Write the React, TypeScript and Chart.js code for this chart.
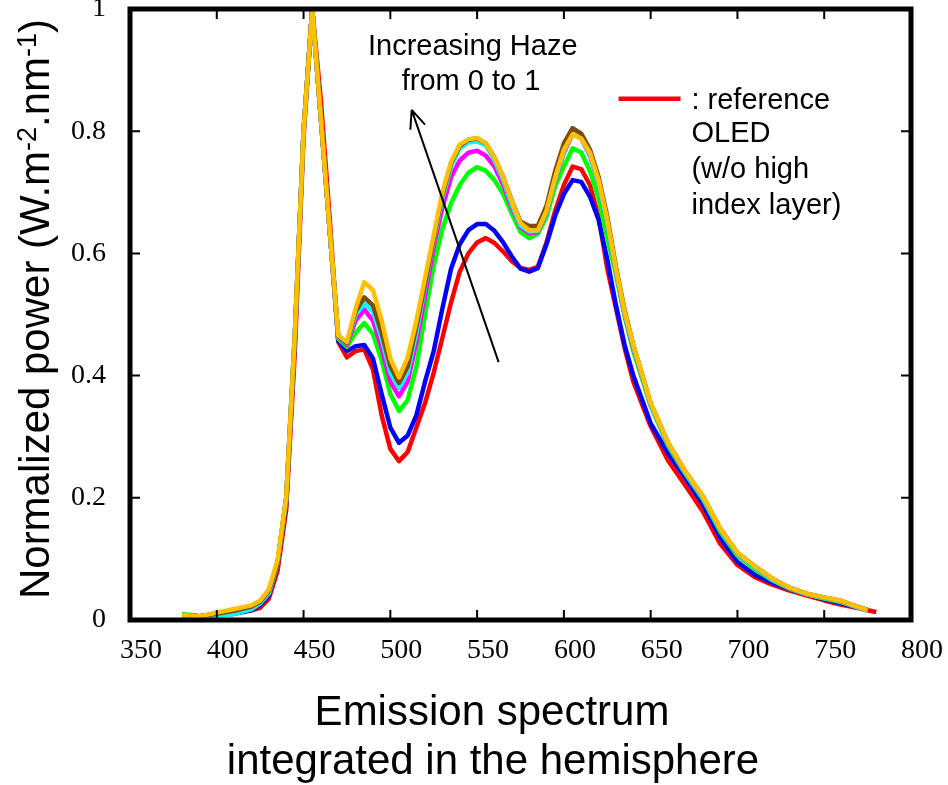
import React, { useEffect, useRef } from "react";
import { Chart, registerables } from "chart.js";

Chart.register(...registerables);

// Wavelength grid (nm)
const wavelengths = [
  380, 390, 400, 410, 420, 425, 430, 435, 440, 445, 450, 455, 460, 465,
  470, 475, 480, 485, 490, 495, 500, 505, 510, 515, 520, 525, 530, 535,
  540, 545, 550, 555, 560, 565, 570, 575, 580, 585, 590, 595, 600, 605,
  610, 615, 620, 625, 630, 635, 640, 650, 660, 670, 680, 690, 700, 710,
  720, 730, 740, 750, 760, 770, 775, 780,
];

// Reference OLED (red)
const referenceOled = [
  0.006, 0.005, 0.012, 0.012, 0.016, 0.02, 0.035, 0.08, 0.18, 0.44, 0.79, 1.0, 0.85, 0.66,
  0.455, 0.43, 0.44, 0.443, 0.41, 0.335, 0.28, 0.26, 0.275, 0.315, 0.355, 0.405, 0.462, 0.52,
  0.57, 0.6, 0.618, 0.625, 0.617, 0.603, 0.587, 0.576, 0.573, 0.578, 0.618, 0.67, 0.712, 0.742,
  0.738, 0.712, 0.66, 0.575, 0.51, 0.445, 0.39, 0.317, 0.261, 0.22, 0.178, 0.125, 0.09, 0.07,
  0.058, 0.048, 0.04, 0.032, 0.025, 0.019, 0.016, 0.013,
];

// Haze = 0 (blue)
const hazeBlue = [
  0.008, 0.006, 0.008, 0.01, 0.016, 0.025, 0.04, 0.09, 0.19, 0.46, 0.8, 1.0, 0.82, 0.64,
  0.457, 0.44, 0.448, 0.45, 0.428, 0.37, 0.315, 0.29, 0.302, 0.335, 0.39, 0.44, 0.51, 0.575,
  0.615, 0.638, 0.648, 0.648, 0.637, 0.618, 0.595, 0.575, 0.57, 0.576, 0.615, 0.662, 0.697, 0.72,
  0.717, 0.693, 0.655, 0.59, 0.515, 0.45, 0.4, 0.322, 0.273, 0.233, 0.19, 0.135, 0.095, 0.074,
  0.061, 0.05, 0.042, 0.034, 0.027, 0.02, 0.017, null,
];

// green
const hazeGreen = [
  0.01, 0.006, 0.008, 0.011, 0.018, 0.027, 0.043, 0.092, 0.195, 0.465, 0.8, 1.0, 0.82, 0.64,
  0.46, 0.447, 0.47, 0.486, 0.468, 0.425, 0.37, 0.342, 0.36, 0.415, 0.5, 0.58, 0.64, 0.682,
  0.712, 0.732, 0.741, 0.735, 0.72, 0.697, 0.665, 0.635, 0.625, 0.632, 0.66, 0.71, 0.742, 0.772,
  0.765, 0.735, 0.69, 0.625, 0.565, 0.497, 0.44, 0.35, 0.285, 0.239, 0.198, 0.145, 0.105, 0.083,
  0.065, 0.051, 0.042, 0.035, 0.029, 0.02, 0.016, null,
];

// magenta
const hazeMagenta = [
  0.008, 0.006, 0.008, 0.011, 0.018, 0.028, 0.044, 0.093, 0.198, 0.465, 0.8, 1.0, 0.82, 0.64,
  0.463, 0.45, 0.49, 0.508, 0.49, 0.445, 0.39, 0.366, 0.39, 0.455, 0.53, 0.61, 0.675, 0.725,
  0.752, 0.765, 0.768, 0.76, 0.742, 0.712, 0.675, 0.643, 0.633, 0.635, 0.668, 0.72, 0.765, 0.795,
  0.788, 0.76, 0.715, 0.65, 0.57, 0.5, 0.445, 0.352, 0.288, 0.241, 0.2, 0.148, 0.108, 0.086,
  0.066, 0.052, 0.042, 0.036, 0.03, 0.02, 0.016, null,
];

// cyan
const hazeCyan = [
  0.005, 0.004, 0.006, 0.01, 0.018, 0.028, 0.045, 0.093, 0.2, 0.47, 0.8, 1.0, 0.82, 0.64,
  0.464, 0.452, 0.5, 0.518, 0.505, 0.46, 0.405, 0.38, 0.405, 0.47, 0.545, 0.622, 0.69, 0.742,
  0.772, 0.782, 0.783, 0.777, 0.752, 0.72, 0.68, 0.646, 0.636, 0.637, 0.67, 0.722, 0.768, 0.797,
  0.789, 0.762, 0.717, 0.652, 0.572, 0.502, 0.447, 0.352, 0.288, 0.241, 0.2, 0.148, 0.108, 0.086,
  0.066, 0.052, 0.042, 0.036, 0.03, 0.02, 0.016, null,
];

// brown
const hazeBrown = [
  0.008, 0.006, 0.01, 0.015, 0.022, 0.03, 0.048, 0.093, 0.2, 0.47, 0.8, 1.0, 0.82, 0.64,
  0.465, 0.453, 0.505, 0.528, 0.515, 0.47, 0.415, 0.388, 0.415, 0.48, 0.55, 0.625, 0.695, 0.748,
  0.776, 0.786, 0.788, 0.78, 0.757, 0.725, 0.686, 0.652, 0.645, 0.645, 0.678, 0.735, 0.78, 0.805,
  0.796, 0.77, 0.725, 0.66, 0.578, 0.507, 0.45, 0.355, 0.29, 0.243, 0.203, 0.15, 0.11, 0.088,
  0.068, 0.053, 0.043, 0.037, 0.031, 0.021, 0.016, null,
];

// Haze = 1 (gold)
const hazeGold = [
  0.008, 0.006, 0.012, 0.018, 0.024, 0.032, 0.05, 0.098, 0.2, 0.47, 0.8, 1.0, 0.82, 0.64,
  0.466, 0.455, 0.51, 0.553, 0.54, 0.49, 0.428, 0.397, 0.43, 0.49, 0.56, 0.63, 0.7, 0.75,
  0.778, 0.787, 0.789, 0.78, 0.757, 0.725, 0.685, 0.65, 0.638, 0.638, 0.67, 0.725, 0.77, 0.795,
  0.788, 0.765, 0.72, 0.655, 0.575, 0.505, 0.45, 0.355, 0.29, 0.243, 0.203, 0.15, 0.11, 0.088,
  0.068, 0.053, 0.043, 0.037, 0.031, 0.021, 0.016, null,
];

const seriesNames = ["reference", "haze0", "hazeA", "hazeB", "hazeC", "hazeD", "haze1"];
const seriesValues = [referenceOled, hazeBlue, hazeGreen, hazeMagenta, hazeCyan, hazeBrown, hazeGold];
const seriesColors = ["#ff0000", "#0000ff", "#00ff00", "#ff00ff", "#00ffff", "#7f4a0c", "#ffc000"];

const xTicks = [350, 400, 450, 500, 550, 600, 650, 700, 750, 800];
const yTicks = [0, 0.2, 0.4, 0.6, 0.8, 1];
const yTickLabels = ["0", "0.2", "0.4", "0.6", "0.8", "1"];

const annotationLines = ["Increasing Haze", "from 0 to 1"];
const legendLines = [": reference", "OLED", "(w/o high", "index layer)"];
const xTitleLines = ["Emission spectrum", "integrated in the hemisphere"];

const SANS = '"Liberation Sans", Arial, Helvetica, sans-serif';
const SERIF = '"Liberation Serif", "Times New Roman", Times, serif';

const decorPlugin = {
  id: "decor",
  afterDraw(chart: any) {
    const { ctx, chartArea } = chart;
    const xs = chart.scales.x;
    const ys = chart.scales.y;
    const { left, right, top, bottom } = chartArea;
    ctx.save();
    // inward ticks
    ctx.strokeStyle = "#000";
    ctx.lineWidth = 2;
    ctx.beginPath();
    xTicks.forEach((v) => {
      const px = xs.getPixelForValue(v);
      ctx.moveTo(px, bottom);
      ctx.lineTo(px, bottom - 10);
      ctx.moveTo(px, top);
      ctx.lineTo(px, top + 10);
    });
    yTicks.forEach((v) => {
      const py = ys.getPixelForValue(v);
      ctx.moveTo(left, py);
      ctx.lineTo(left + 10, py);
      ctx.moveTo(right, py);
      ctx.lineTo(right - 10, py);
    });
    ctx.stroke();
    // frame
    ctx.lineWidth = 5;
    ctx.strokeRect(left, top, right - left, bottom - top);

    // arrow
    const tx = xs.getPixelForValue(562.4);
    const ty = ys.getPixelForValue(0.422);
    const hx = xs.getPixelForValue(512.3);
    const hy = ys.getPixelForValue(0.835);
    ctx.lineWidth = 2;
    ctx.beginPath();
    ctx.moveTo(tx, ty);
    ctx.lineTo(hx, hy);
    const ang = Math.atan2(hy - ty, hx - tx);
    const hl = 20;
    ctx.moveTo(hx, hy);
    ctx.lineTo(hx - hl * Math.cos(ang - 0.4), hy - hl * Math.sin(ang - 0.4));
    ctx.moveTo(hx, hy);
    ctx.lineTo(hx - hl * Math.cos(ang + 0.4), hy - hl * Math.sin(ang + 0.4));
    ctx.stroke();

    // annotation text
    ctx.fillStyle = "#000";
    ctx.font = `29px ${SANS}`;
    ctx.textAlign = "center";
    ctx.textBaseline = "middle";
    ctx.fillText(annotationLines[0], xs.getPixelForValue(547.5), ys.getPixelForValue(0.937));
    ctx.fillText(annotationLines[1], xs.getPixelForValue(546.5), ys.getPixelForValue(0.881));

    // legend
    ctx.strokeStyle = seriesColors[0];
    ctx.lineWidth = 4.5;
    ctx.beginPath();
    const ly = ys.getPixelForValue(0.853);
    ctx.moveTo(xs.getPixelForValue(631.5), ly);
    ctx.lineTo(xs.getPixelForValue(667.2), ly);
    ctx.stroke();
    ctx.textAlign = "left";
    const lx = xs.getPixelForValue(673.5);
    const lys = [0.849, 0.795, 0.736, 0.678];
    legendLines.forEach((t, i) => ctx.fillText(t, lx, ys.getPixelForValue(lys[i])));

    // x title
    ctx.font = `42px ${SANS}`;
    ctx.textAlign = "center";
    ctx.fillText(xTitleLines[0], 492, 713);
    ctx.fillText(xTitleLines[1], 493, 762);

    // y title with superscripts
    const parts: [string, boolean][] = [
      ["Normalized power (W.m", false],
      ["-2", true],
      [".nm", false],
      ["-1", true],
      [")", false],
    ];
    const big = `42px ${SANS}`;
    const small = `27px ${SANS}`;
    let total = 0;
    parts.forEach(([t, s]) => {
      ctx.font = s ? small : big;
      total += ctx.measureText(t).width;
    });
    ctx.save();
    ctx.translate(34, 309);
    ctx.rotate(-Math.PI / 2);
    ctx.textAlign = "left";
    ctx.textBaseline = "alphabetic";
    let cx = -total / 2;
    parts.forEach(([t, s]) => {
      ctx.font = s ? small : big;
      ctx.fillText(t, cx, s ? 2 : 15);
      cx += ctx.measureText(t).width;
    });
    ctx.restore();
    ctx.restore();
  },
};

export default function App() {
  const ref = useRef<HTMLCanvasElement | null>(null);
  useEffect(() => {
    if (!ref.current) return;
    const datasets = seriesValues.map((vals, i) => ({
      label: seriesNames[i],
      data: wavelengths.map((w, j) => ({ x: w, y: vals[j] })),
      borderColor: seriesColors[i],
      backgroundColor: seriesColors[i],
      borderWidth: 4.5,
      pointRadius: 0,
      tension: 0,
      fill: false,
      order: seriesValues.length - 1 - i,
      borderJoinStyle: "round" as const,
    }));
    const chart = new Chart(ref.current, {
      type: "line",
      data: { datasets },
      options: {
        responsive: false,
        animation: false,
        layout: { padding: { top: 9, right: 37, left: 0, bottom: 0 } },
        plugins: { legend: { display: false }, tooltip: { enabled: false } },
        scales: {
          x: {
            type: "linear",
            min: 350,
            max: 800,
            afterBuildTicks: (s: any) => {
              s.ticks = xTicks.map((v) => ({ value: v }));
            },
            ticks: {
              font: { family: SERIF, size: 28 },
              color: "#000",
              padding: 14,
              labelOffset: 11,
              maxRotation: 0,
              autoSkip: false,
            },
            grid: { display: false, drawTicks: false },
            border: { display: false },
            afterFit: (s: any) => {
              s.height = 165;
              s.paddingLeft = 0;
              s.paddingRight = 0;
            },
          },
          y: {
            min: 0,
            max: 1,
            afterBuildTicks: (s: any) => {
              s.ticks = yTicks.map((v) => ({ value: v }));
            },
            ticks: {
              font: { family: SERIF, size: 28 },
              color: "#000",
              padding: 24,
              autoSkip: false,
              callback: (v: any) => {
                const i = yTicks.findIndex((t) => Math.abs(t - Number(v)) < 1e-9);
                return i >= 0 ? yTickLabels[i] : "";
              },
            },
            grid: { display: false, drawTicks: false },
            border: { display: false },
            afterFit: (s: any) => {
              s.width = 130;
              s.paddingTop = 0;
              s.paddingBottom = 0;
            },
          },
        },
      },
      plugins: [decorPlugin],
    });
    return () => chart.destroy();
  }, []);
  return (
    <div style={{ position: "fixed", left: 0, top: 0, width: 948, height: 785, background: "#fff" }}>
      <canvas ref={ref} width={948} height={785} style={{ display: "block" }} />
    </div>
  );
}
